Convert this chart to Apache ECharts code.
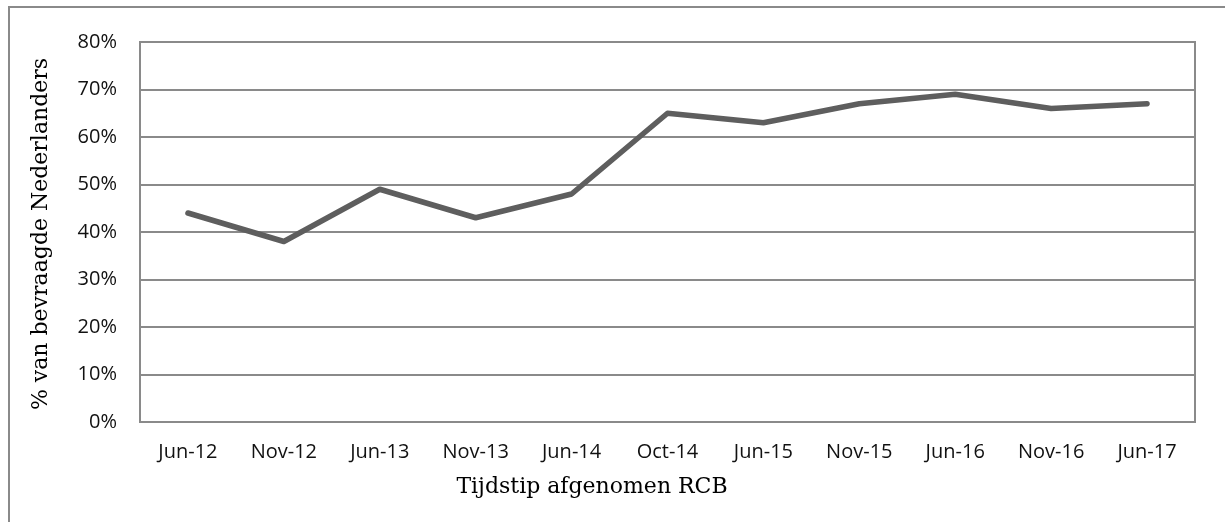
<!DOCTYPE html>
<html>
<head>
<meta charset="utf-8">
<script src="https://cdn.jsdelivr.net/npm/echarts@6/dist/echarts.min.js"></script>
<style>
  html, body { margin: 0; padding: 0; background: #fff; }
  #chart { width: 1225px; height: 522px; }
</style>
</head>
<body>
<div id="chart"></div>
<script>
// survey moments (x axis)
const categories = ['Jun-12', 'Nov-12', 'Jun-13', 'Nov-13', 'Jun-14', 'Oct-14',
  'Jun-15', 'Nov-15', 'Jun-16', 'Nov-16', 'Jun-17'];
// % of respondents
const percentages = [44, 38, 49, 43, 48, 65, 63, 67, 69, 66, 67];

const yTitle = '% van bevraagde Nederlanders';
const xTitle = 'Tijdstip afgenomen RCB';

const gridGray = '#8a8a8a';
const tickFont = '"Open Sans", sans-serif';
const titleFont = '"DejaVu Serif", serif';

const chart = echarts.init(document.getElementById('chart'));

const option = {
  animation: false,
  backgroundColor: '#fff',
  grid: {
    left: 140,
    right: 30,
    top: 42,
    bottom: 100,
    show: true,
    borderColor: gridGray,
    borderWidth: 2
  },
  xAxis: {
    type: 'category',
    data: categories,
    boundaryGap: true,
    axisLine: { lineStyle: { color: gridGray, width: 2 } },
    axisTick: { show: false },
    axisLabel: {
      color: '#111',
      fontFamily: tickFont,
      fontSize: 20,
      margin: 20
    }
  },
  yAxis: {
    type: 'value',
    min: 0,
    max: 80,
    interval: 10,
    axisLine: { show: true, lineStyle: { color: gridGray, width: 2 } },
    axisTick: { show: false },
    splitLine: { lineStyle: { color: gridGray, width: 2 } },
    axisLabel: {
      color: '#111',
      fontFamily: tickFont,
      fontSize: 20,
      margin: 23,
      formatter: '{value}%'
    }
  },
  series: [
    {
      type: 'line',
      data: percentages,
      symbol: 'none',
      lineStyle: { color: '#5e5e5e', width: 5.5, cap: 'round', join: 'round' }
    }
  ],
  graphic: [
    {
      // outer chart frame (right/bottom edges fall outside the picture)
      type: 'rect',
      shape: { x: 9, y: 7, width: 1300, height: 600 },
      style: { fill: 'none', stroke: gridGray, lineWidth: 2 },
      silent: true,
      z: -1
    },
    {
      type: 'text',
      x: 41,
      y: 234,
      rotation: Math.PI / 2,
      style: {
        text: yTitle,
        font: '22px ' + titleFont,
        fill: '#000',
        align: 'center',
        verticalAlign: 'middle'
      }
    },
    {
      type: 'text',
      x: 592,
      y: 487,
      style: {
        text: xTitle,
        font: '22px ' + titleFont,
        fill: '#000',
        align: 'center',
        verticalAlign: 'middle'
      }
    }
  ]
};

chart.setOption(option);
</script>
</body>
</html>
